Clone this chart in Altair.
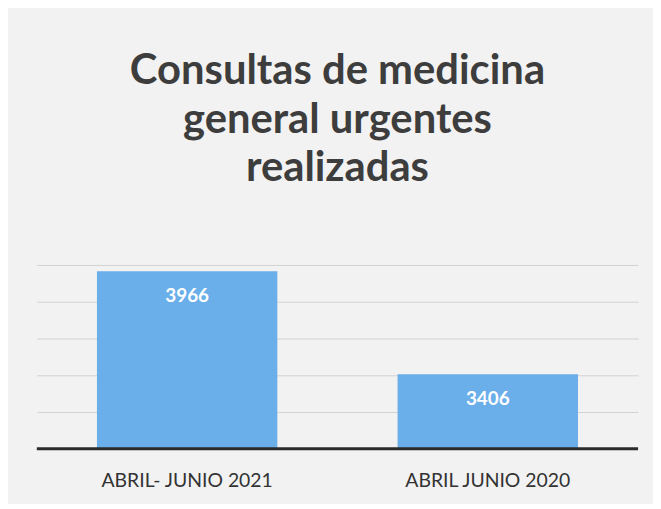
import altair as alt
import pandas as pd

categories = ["ABRIL- JUNIO 2021", "ABRIL JUNIO 2020"]
values = [3966, 3406]
grid_values = [3200, 3400, 3600, 3800, 4000]
axis_min = 3000
axis_max = 4000

df = pd.DataFrame({"periodo": categories, "consultas": values})

x_enc = alt.X("periodo:N", sort=categories,
              scale=alt.Scale(paddingInner=0.4, paddingOuter=0.2),
              axis=alt.Axis(title=None, labelAngle=0, ticks=False, domain=False,
                            labelFont="Lato", labelFontSize=19.5, labelColor="#333333",
                            labelPadding=23))
y_scale = alt.Scale(domain=[axis_min, axis_max], nice=False, zero=False)

bars = alt.Chart(df).mark_bar(color="#6aaeea").encode(
    x=x_enc,
    y=alt.Y("consultas:Q", scale=y_scale,
            axis=alt.Axis(title=None, labels=False, ticks=False, domain=False,
                          grid=True, gridColor="#d2d2d2", gridWidth=1,
                          values=grid_values)),
    y2=alt.datum(axis_min),
)

labels = alt.Chart(df).mark_text(color="white", font="Lato", fontWeight="bold",
                                 fontSize=19, baseline="middle", dy=25).encode(
    x=alt.X("periodo:N", sort=categories),
    y=alt.Y("consultas:Q", scale=y_scale),
    text=alt.Text("consultas:Q", format="d"),
)

base_line = alt.Chart(pd.DataFrame({"v": [axis_min]})).mark_rule(
    color="#2b2b2b", strokeWidth=3).encode(y=alt.Y("v:Q", scale=y_scale))

chart = alt.layer(bars, labels, base_line).properties(
    width=605, height=185,
    padding={"left": 27, "top": 41, "right": 13, "bottom": 12},
    background="#f2f2f2",
    title=alt.TitleParams(
        text=["Consultas de medicina", "general urgentes", "realizadas"],
        font="Lato", fontSize=42, fontWeight="bold", color="#3d3d3d",
        lineHeight=49, anchor="middle", offset=75,
    ),
).configure_view(stroke=None)

chart.save("out.html", embed_options={"renderer": "svg", "actions": False})
